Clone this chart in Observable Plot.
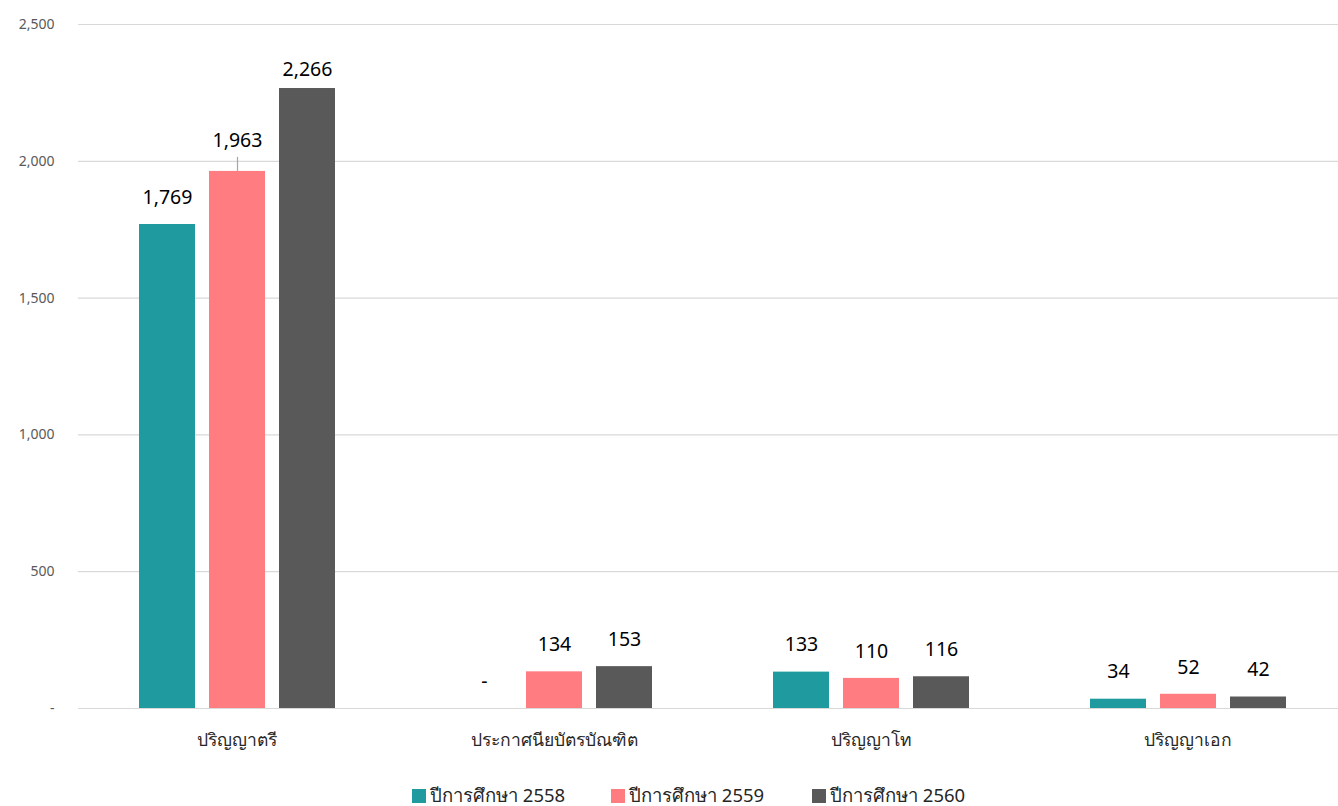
<!DOCTYPE html>
<html><head><meta charset="utf-8">
<script src="https://cdn.jsdelivr.net/npm/d3@7"></script>
<script src="https://cdn.jsdelivr.net/npm/@observablehq/plot@0.6"></script>
<style>
body{margin:0;background:#fff;font-family:"Noto Sans","Open Sans",sans-serif;}
#legend{position:relative;height:36px;font-size:18.5px;color:#262626;}
.item{position:absolute;top:11px;display:flex;align-items:center;white-space:nowrap;}
.sw{width:14px;height:14px;margin-right:4px;}
</style>
</head><body><div id="chart"></div><div id="legend"></div><script>
const categories = ["ปริญญาตรี","ประกาศนียบัตรบัณฑิต","ปริญญาโท","ปริญญาเอก"];
const seriesNames = ["ปีการศึกษา 2558","ปีการศึกษา 2559","ปีการศึกษา 2560"];
const values2558 = [1769, 0, 133, 34];
const values2559 = [1963, 134, 110, 52];
const values2560 = [2266, 153, 116, 42];
const seriesColors = ["#1F9BA0","#FF7C80","#595959"];
const yTicks = [0, 500, 1000, 1500, 2000, 2500];
const leaderLabels = [{category:"ปริญญาตรี", series:"ปีการศึกษา 2559"}];
const loweredLabels = [{category:"ปริญญาตรี", series:"ปีการศึกษา 2560"}];

const allValues = [values2558, values2559, values2560];
const data = [];
categories.forEach((c, i) => seriesNames.forEach((s, j) => data.push({category:c, series:s, value:allValues[j][i]})));
const inList = list => d => list.some(l => l.category === d.category && l.series === d.series);
const isLeader = inList(leaderLabels);
const isLowered = inList(loweredLabels);
const fmt = d => d === 0 ? "-" : d3.format(",")(d);

const chart = Plot.plot({
  width: 1338, height: 770,
  marginLeft: 76, marginRight: 0, marginTop: 24, marginBottom: 62,
  style: {fontFamily: '"Noto Sans","Open Sans",sans-serif', background: "#fff"},
  fx: {domain: categories, range: [76, 1347], padding: 0, label: null},
  x: {domain: seriesNames, paddingInner: 0.206, paddingOuter: 0.857, axis: null},
  y: {domain: [0, 2500], label: null},
  color: {domain: seriesNames, range: seriesColors},
  marks: [
    Plot.ruleY(yTicks, {stroke: "#d9d9d9", strokeWidth: 1.2}),
    Plot.axisY(yTicks, {tickSize: 0, tickPadding: 24, fontSize: 14, fill: "#595959", tickFormat: fmt, label: null}),
    Plot.axisFx({anchor: "bottom", tickSize: 0, tickPadding: 25, fontSize: 17.5, fill: "#262626", label: null}),
    Plot.barY(data, {fx: "category", x: "series", y: "value", fill: "series"}),
    Plot.ruleX(data.filter(isLeader), {fx: "category", x: "series", y1: "value", y2: "value", insetTop: -14, stroke: "#a6a6a6", strokeWidth: 1.2}),
    Plot.text(data.filter(d => !isLeader(d) && !isLowered(d)), {fx: "category", x: "series", y: "value", text: d => fmt(d.value), dy: -27, fontSize: 19.5, fill: "#000"}),
    Plot.text(data.filter(isLeader), {fx: "category", x: "series", y: "value", text: d => fmt(d.value), dy: -31, fontSize: 19.5, fill: "#000"}),
    Plot.text(data.filter(isLowered), {fx: "category", x: "series", y: "value", text: d => fmt(d.value), dy: -19, fontSize: 19.5, fill: "#000"})
  ]
});
document.getElementById("chart").append(chart);

const legend = document.getElementById("legend");
const legendLeft = [412, 611, 812];
seriesNames.forEach((s, i) => {
  const it = document.createElement("div");
  it.className = "item";
  it.style.left = legendLeft[i] + "px";
  it.innerHTML = `<span class="sw" style="background:${seriesColors[i]}"></span><span>${s}</span>`;
  legend.append(it);
});
</script></body></html>
